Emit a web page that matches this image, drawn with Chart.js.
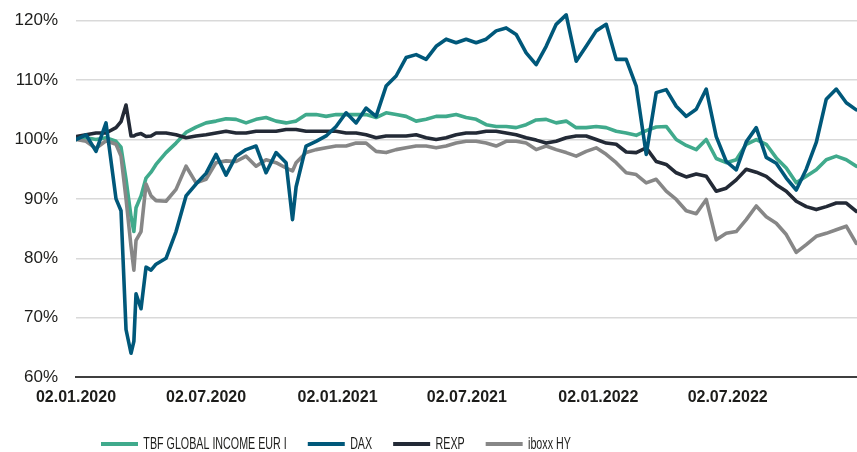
<!DOCTYPE html>
<html>
<head>
<meta charset="utf-8">
<script src="https://cdn.jsdelivr.net/npm/chart.js@4.4.1/dist/chart.umd.min.js"></script>
<style>
  html, body { margin: 0; padding: 0; background: #ffffff; }
  #wrap { width: 857px; height: 452px; }
</style>
</head>
<body>
<div id="wrap"><canvas id="c" width="857" height="452"></canvas></div>
<script>
// Day offsets since 02.01.2020
const days = [0,14,28,42,56,63,70,77,81,84,91,98,105,112,126,140,154,168,182,196,210,224,238,252,266,280,294,303,308,322,336,350,364,378,392,406,420,434,448,462,476,490,504,518,532,546,560,574,588,602,616,630,644,658,672,686,700,714,728,742,756,770,784,798,812,826,840,854,868,882,896,910,924,938,952,966,980,994,1008,1022,1036,1050,1064,1078,1092];

const seriesNames = ["TBF GLOBAL INCOME EUR I", "DAX", "REXP", "iboxx HY"];

const tbf = [100,100.3,100,100.3,99.7,98.7,93.3,87,84.5,88.5,90.5,93.5,94.5,95.8,97.8,99.4,101.2,102.1,102.8,103.1,103.5,103.4,102.8,103.4,103.7,103.1,102.8,103,103.1,104.2,104.2,103.9,104.2,104.2,104.2,104.2,103.7,104.5,104.2,103.9,103.1,103.4,103.9,103.9,104.2,103.7,103.4,102.5,102.2,102.2,102,102.5,103.3,103.4,102.8,103.1,102,102,102.2,102,101.4,101.1,100.7,101.5,102.1,102.2,100,99,98.3,100,96.8,96.1,96.6,99.2,100,99.2,96.9,95.2,92.7,93.8,94.9,96.6,97.2,96.6,95.5];

const dax = [100,100.8,98,102.8,90,88,68,64,66,74,71.5,78.5,78,79,80,84.5,90.5,92.5,94.3,97.5,94,97.2,98.3,98.9,94.4,97.8,96.1,86.5,92,98.9,99.7,100.6,102.2,104.5,102.8,105.3,103.9,109,110.7,113.8,114.3,113.5,115.7,116.9,116.3,116.9,116.3,116.9,118.3,118.8,117.7,114.6,112.6,115.7,119.4,121,113.2,115.7,118.3,119.4,113.5,113.5,109,97.5,107.9,108.4,105.6,103.9,105.1,108.5,100.5,96.3,94.9,99.6,102,97,96,93.5,91.5,95,99.5,106.8,108.5,106.2,105];

const rexp = [100.5,100.8,101.1,101.1,102,103,105.8,100.6,100.6,100.8,101,100.5,100.6,101.1,101.1,100.8,100.3,100.6,100.8,101.1,101.4,101.1,101.1,101.4,101.4,101.4,101.7,101.7,101.7,101.4,101.4,101.4,101.4,101.1,101.1,100.8,100.3,100.6,100.6,100.6,100.8,100.3,100,100.3,100.8,101.1,101.1,101.4,101.4,101.1,100.8,100.3,99.9,99.4,99.7,100.3,100.6,100.6,100,99.4,99.2,97.9,97.8,98.6,96.3,95.8,94.4,93.7,94.2,93.8,91.3,91.8,93.2,95,94.5,93.8,92.4,91.3,89.6,88.7,88.2,88.7,89.3,89.3,87.9];

const iboxx = [100,99.7,98.5,99.8,99.2,97.2,90,82,78,83,84.5,92.5,90.5,89.7,89.6,91.6,95.5,92.7,93.3,96.1,96.4,96.3,97.2,95.5,96.6,96.1,95.2,94.7,96.1,97.8,98.3,98.6,98.9,98.9,99.4,99.4,98,97.8,98.3,98.6,98.9,98.9,98.6,98.9,99.4,99.7,99.7,99.4,98.9,99.7,99.7,99.4,98.3,98.9,98.3,97.8,97.2,98,98.6,97.5,96.1,94.4,94.1,92.7,93.3,91.3,89.9,88,87.5,89.9,83.1,84.2,84.5,86.5,88.8,87,85.9,84,81,82.3,83.7,84.2,84.8,85.4,82.5];

const xTickDays = [0,182,366,547,731,912];
const xTickLabels = ["02.01.2020","02.07.2020","02.01.2021","02.07.2021","02.01.2022","02.07.2022"];
const yTicks = [60,70,80,90,100,110,120];

const FONT = "'Liberation Sans', Arial, sans-serif";
const colors = ["#40aa8c", "#00587a", "#232a36", "#878787"];
const drawOrder = [3, 0, 1, 2];
const valueSets = [tbf, dax, rexp, iboxx];

// legend is drawn horizontally condensed to mimic the narrow original typeface
const SX = 0.63;
const LEG_X0 = 101;      // left edge of first legend line
const LEG_MID = 444;     // vertical centre of legend row
const LEG_FONT = 17;
const LEG_PAD = 21 / SX;

const datasets = seriesNames.map((name, i) => ({
  label: name,
  data: days.map((d, j) => ({ x: d, y: valueSets[i][j] })),
  borderColor: colors[i],
  backgroundColor: colors[i],
  borderWidth: 3.6,
  pointRadius: 0,
  tension: 0,
  order: drawOrder[i],
  borderJoinStyle: 'round',
  borderCapStyle: 'round'
}));

const legendPlacer = {
  id: 'legendPlacer',
  afterLayout(chart) {
    const lg = chart.legend;
    if (!lg) return;
    if (!lg._condensed) {
      const orig = lg.draw;
      lg.draw = function (area) {
        const ctx = this.ctx;
        ctx.save();
        ctx.scale(SX, 1);
        orig.call(this, area);
        ctx.restore();
      };
      lg._condensed = true;
    }
    lg.left = LEG_X0 / SX - LEG_PAD;
    lg.right = chart.width / SX;
    lg.top = LEG_MID - LEG_FONT / 2 - LEG_PAD;
    lg.bottom = chart.height;
  }
};

new Chart(document.getElementById('c'), {
  type: 'line',
  data: { datasets },
  plugins: [legendPlacer],
  options: {
    responsive: false,
    animation: false,
    layout: { padding: { top: 0, right: 0, left: 0, bottom: 0 } },
    plugins: {
      tooltip: { enabled: false },
      legend: {
        position: 'bottom',
        align: 'start',
        maxHeight: 40,
        labels: {
          boxWidth: 37 / SX,
          boxHeight: 4,
          padding: LEG_PAD,
          color: '#1d1d1b',
          font: { family: FONT, size: LEG_FONT },
          sort: (a, b) => a.datasetIndex - b.datasetIndex,
          generateLabels: (chart) => Chart.defaults.plugins.legend.labels.generateLabels(chart)
            .map(l => Object.assign({}, l, { lineWidth: 0, fillStyle: l.strokeStyle }))
        }
      }
    },
    scales: {
      x: {
        type: 'linear',
        min: 0,
        max: 1093,
        afterBuildTicks: (s) => { s.ticks = xTickDays.map(v => ({ value: v })); },
        afterFit: (s) => { s.height = 35; s.paddingLeft = 0; s.paddingRight = 0; },
        ticks: {
          autoSkip: false,
          maxRotation: 0,
          padding: 11,
          color: '#1d1d1b',
          font: { family: FONT, size: 16, weight: 'bold' },
          callback: (v, i) => xTickLabels[i]
        },
        grid: { display: false, drawTicks: false },
        border: { display: true, color: '#3f3f3f', width: 2 }
      },
      y: {
        min: 60,
        max: 123.5,
        afterBuildTicks: (s) => { s.ticks = yTicks.map(v => ({ value: v })); },
        afterFit: (s) => { s.width = 76; s.paddingTop = 0; s.paddingBottom = 0; },
        ticks: {
          padding: 18,
          color: '#1d1d1b',
          font: { family: FONT, size: 17 },
          callback: (v) => v + '%'
        },
        grid: { color: '#d9d9d9', lineWidth: 1.5, drawTicks: false },
        border: { display: false }
      }
    }
  }
});
</script>
</body>
</html>
